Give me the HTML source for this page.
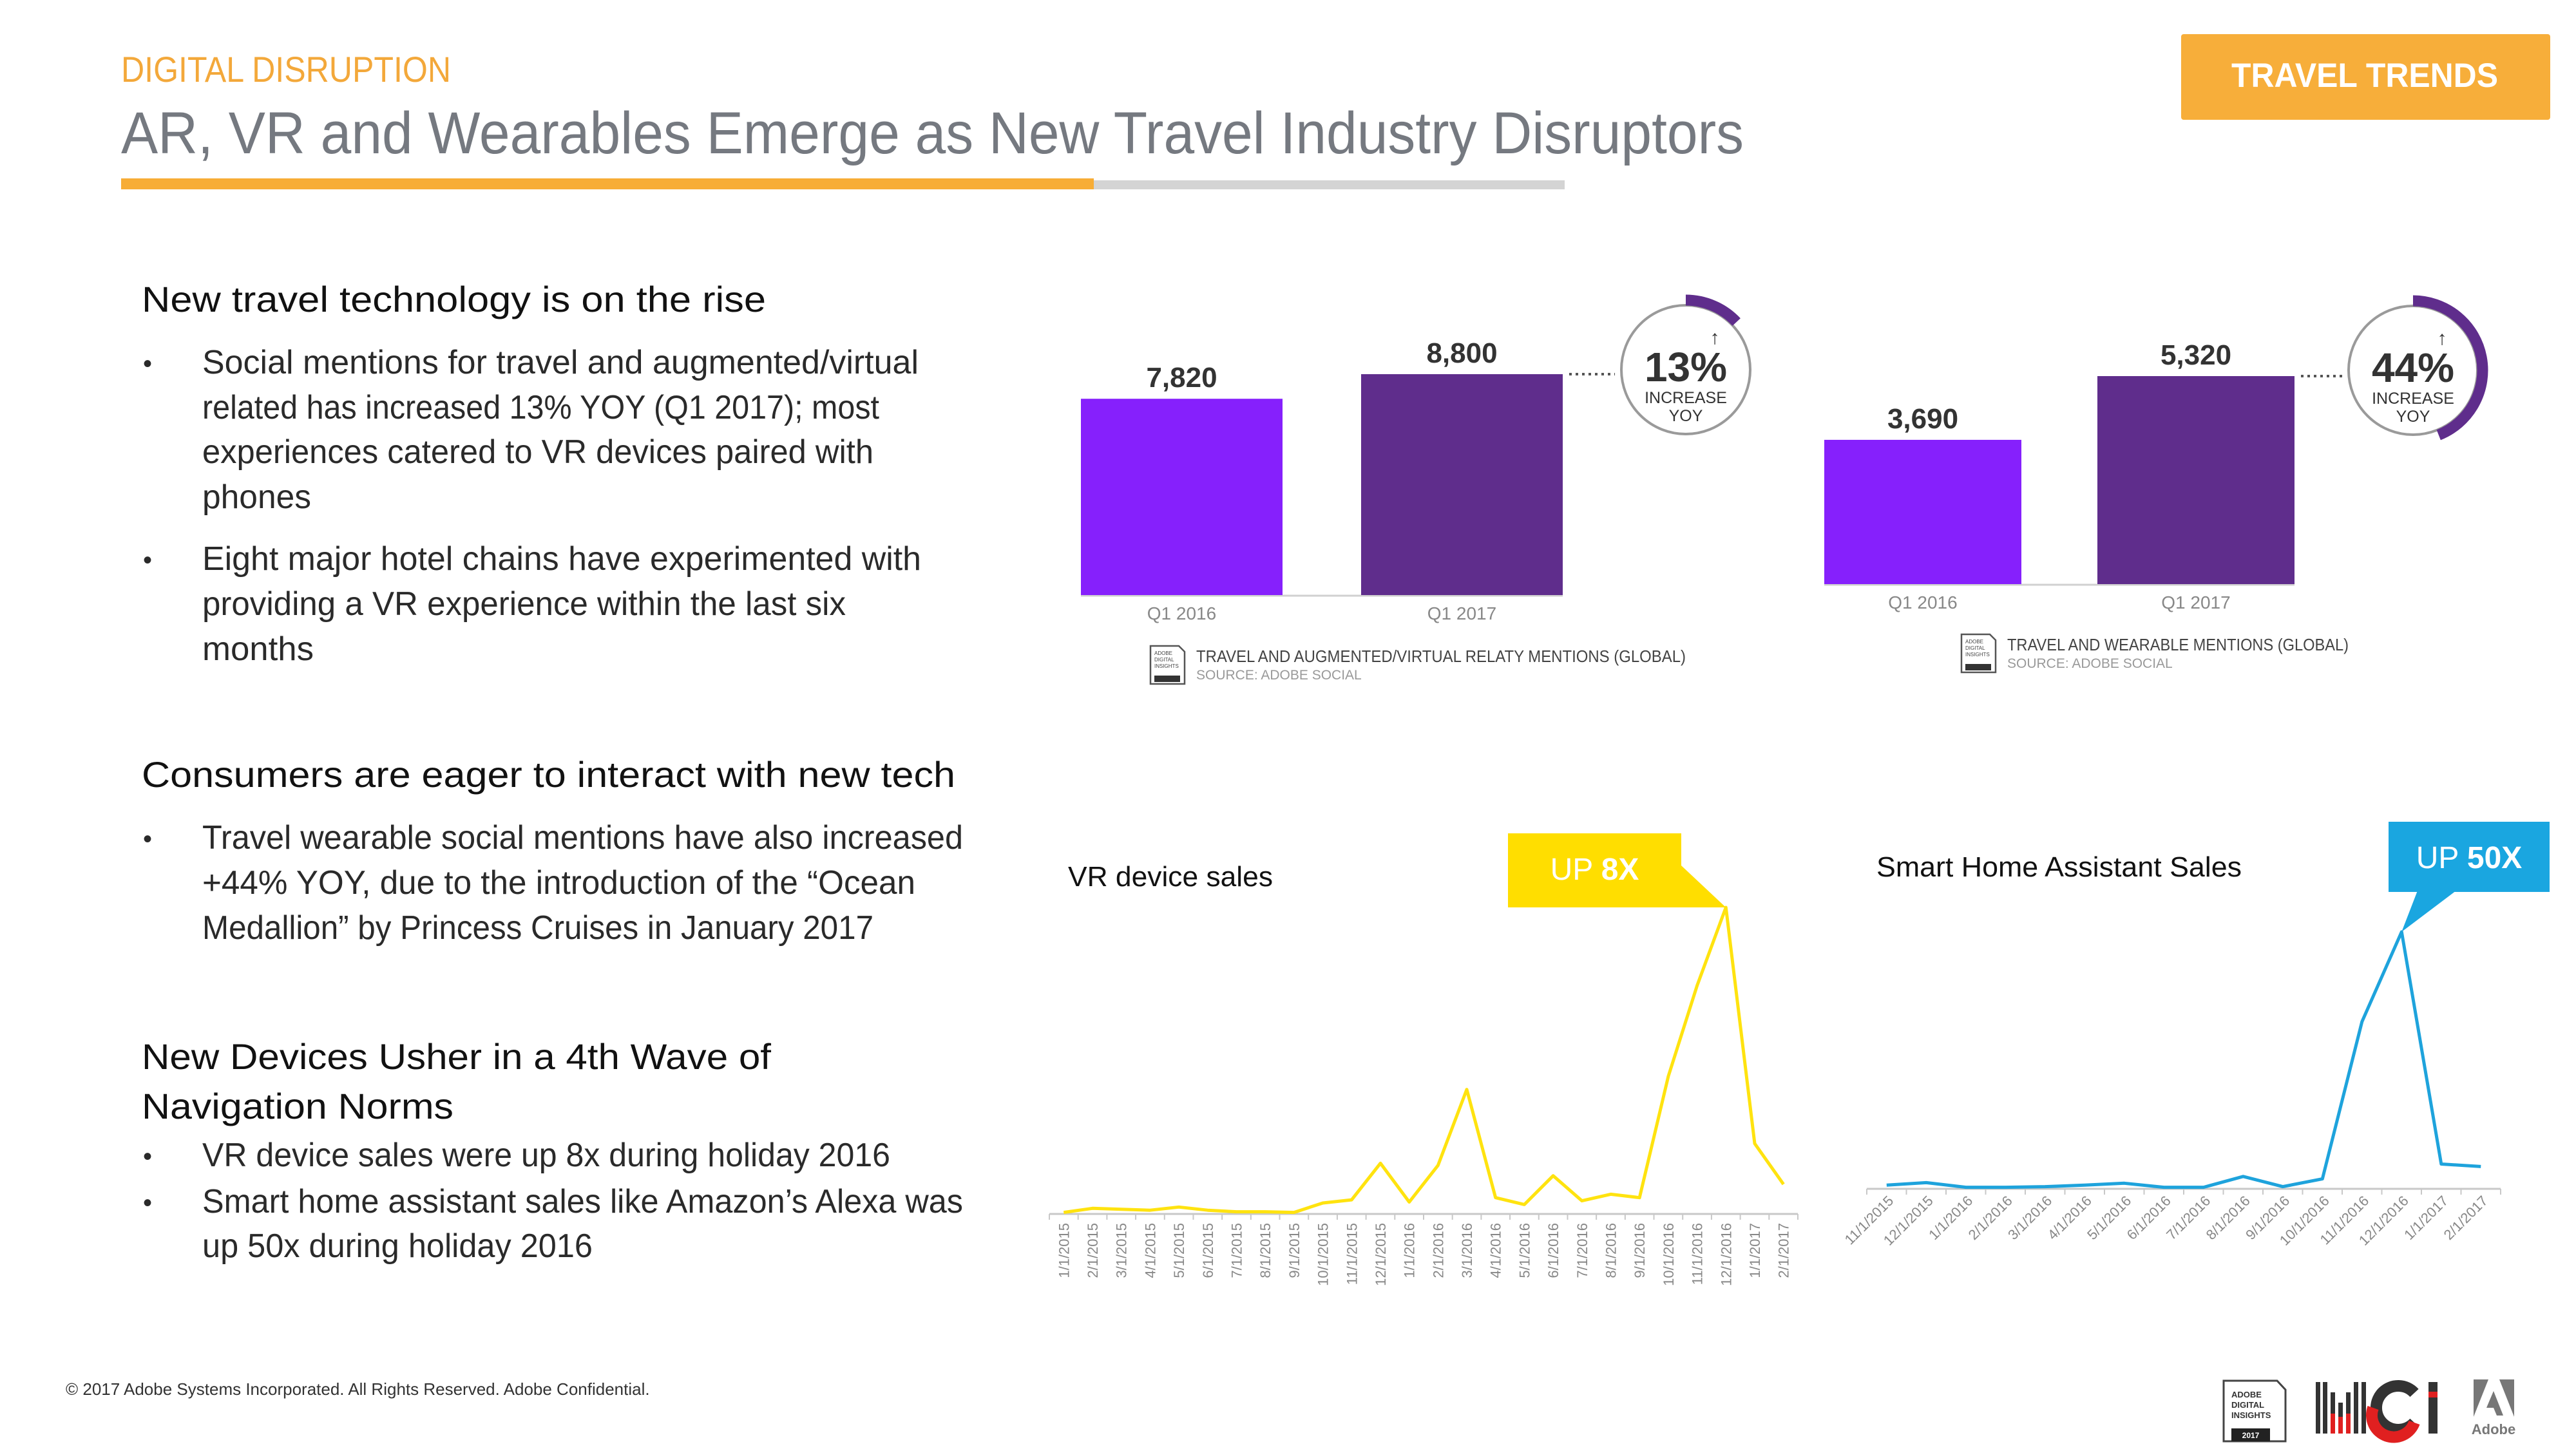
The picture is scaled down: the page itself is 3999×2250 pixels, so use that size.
<!DOCTYPE html>
<html><head><meta charset="utf-8"><style>
html,body{margin:0;padding:0;background:#fff;}
svg{display:block;font-family:"Liberation Sans",sans-serif;}
</style></head><body>
<svg id="root" width="3999" height="2250" viewBox="0 0 3999 2250" xmlns="http://www.w3.org/2000/svg">
<!-- header -->
<text x="188" y="127" font-size="56" fill="#f3a83a" textLength="512" lengthAdjust="spacingAndGlyphs">DIGITAL DISRUPTION</text>
<text x="188" y="238" font-size="92" fill="#757980" textLength="2519" lengthAdjust="spacingAndGlyphs">AR, VR and Wearables Emerge as New Travel Industry Disruptors</text>
<rect x="188" y="280" width="2241" height="14" fill="#d4d4d4"/>
<rect x="188" y="277" width="1510" height="17" fill="#f7ad36"/>
<rect x="3386" y="53" width="573" height="133" rx="4" fill="#f7ae3a"/>
<text x="3671" y="135" font-size="53" font-weight="bold" fill="#fff" text-anchor="middle" textLength="414" lengthAdjust="spacingAndGlyphs">TRAVEL TRENDS</text>

<!-- left text -->
<g fill="#111">
<text x="220" y="484" font-size="56" textLength="969" lengthAdjust="spacingAndGlyphs">New travel technology is on the rise</text>
<g font-size="52" fill="#2a2a2a">
<text x="222" y="578" font-size="40">•</text>
<text x="314" y="580" textLength="1112" lengthAdjust="spacingAndGlyphs">Social mentions for travel and augmented/virtual</text>
<text x="314" y="650" textLength="1051" lengthAdjust="spacingAndGlyphs">related has increased 13% YOY (Q1 2017); most</text>
<text x="314" y="719" textLength="1042" lengthAdjust="spacingAndGlyphs">experiences catered to VR devices paired with</text>
<text x="314" y="789" textLength="169" lengthAdjust="spacingAndGlyphs">phones</text>
<text x="222" y="883" font-size="40">•</text>
<text x="314" y="885" textLength="1116" lengthAdjust="spacingAndGlyphs">Eight major hotel chains have experimented with</text>
<text x="314" y="955" textLength="999" lengthAdjust="spacingAndGlyphs">providing a VR experience within the last six</text>
<text x="314" y="1025" textLength="173" lengthAdjust="spacingAndGlyphs">months</text>
</g>
<text x="220" y="1222" font-size="56" textLength="1263" lengthAdjust="spacingAndGlyphs">Consumers are eager to interact with new tech</text>
<g font-size="52" fill="#2a2a2a">
<text x="222" y="1316" font-size="40">•</text>
<text x="314" y="1318" textLength="1181" lengthAdjust="spacingAndGlyphs">Travel wearable social mentions have also increased</text>
<text x="314" y="1388" textLength="1107" lengthAdjust="spacingAndGlyphs">+44% YOY, due to the introduction of the “Ocean</text>
<text x="314" y="1458" textLength="1042" lengthAdjust="spacingAndGlyphs">Medallion” by Princess Cruises in January 2017</text>
</g>
<text x="220" y="1660" font-size="56" textLength="977" lengthAdjust="spacingAndGlyphs">New Devices Usher in a 4th Wave of</text>
<text x="220" y="1737" font-size="56" textLength="484" lengthAdjust="spacingAndGlyphs">Navigation Norms</text>
<g font-size="52" fill="#2a2a2a">
<text x="222" y="1809" font-size="40">•</text>
<text x="314" y="1811" textLength="1068" lengthAdjust="spacingAndGlyphs">VR device sales were up 8x during holiday 2016</text>
<text x="222" y="1881" font-size="40">•</text>
<text x="314" y="1883" textLength="1181" lengthAdjust="spacingAndGlyphs">Smart home assistant sales like Amazon’s Alexa was</text>
<text x="314" y="1952" textLength="606" lengthAdjust="spacingAndGlyphs">up 50x during holiday 2016</text>
</g>
</g>

<!-- footer -->
<text x="102" y="2166" font-size="26" fill="#333">© 2017 Adobe Systems Incorporated.  All Rights Reserved.  Adobe Confidential.</text>
<g>
<path d="M3452 2144 H3535 L3548 2158 V2238 H3452 Z" fill="#fff" stroke="#444" stroke-width="3"/>
<text x="3464" y="2170" font-size="13" font-weight="bold" fill="#333">ADOBE</text>
<text x="3464" y="2186" font-size="13" font-weight="bold" fill="#333">DIGITAL</text>
<text x="3464" y="2202" font-size="13" font-weight="bold" fill="#333">INSIGHTS</text>
<rect x="3464" y="2218" width="60" height="20" fill="#222"/>
<text x="3494" y="2233" font-size="12" font-weight="bold" fill="#fff" text-anchor="middle">2017</text>
</g>
<g>
<rect x="3595" y="2146" width="7" height="80" fill="#333"/><rect x="3606" y="2146" width="7" height="80" fill="#333"/>
<rect x="3618" y="2162" width="7" height="64" fill="#333"/><rect x="3618" y="2195" width="7" height="31" fill="#e02020"/>
<rect x="3630" y="2178" width="7" height="48" fill="#333"/><rect x="3630" y="2200" width="7" height="26" fill="#e02020"/>
<rect x="3642" y="2162" width="7" height="64" fill="#333"/><rect x="3642" y="2195" width="7" height="31" fill="#e02020"/>
<rect x="3654" y="2146" width="7" height="80" fill="#333"/><rect x="3666" y="2146" width="7" height="80" fill="#333"/>
<path d="M3748 2163 A34 34 0 1 0 3748 2209" fill="none" stroke="#333" stroke-width="18"/>
<path d="M3684 2186 A34 34 0 0 0 3748 2209" fill="none" stroke="#e02020" stroke-width="18"/>
<rect x="3770" y="2146" width="14" height="80" fill="#333"/><rect x="3770" y="2161" width="14" height="9" fill="#e02020"/>
</g>
<g>
<path d="M3840 2142 H3863 L3840 2200 Z" fill="#777"/>
<path d="M3880 2142 H3903 V2200 Z" fill="#777"/>
<path d="M3871 2160 L3886 2198 H3876 L3871 2186 H3860 Z" fill="#777"/>
<text x="3871" y="2227" font-size="22" font-weight="bold" fill="#777" text-anchor="middle">Adobe</text>
</g>

<g id="bars1"></g>
<g id="bars2"></g>
<g id="vr"></g>
<g id="sh"></g>
</svg>
<script>
const NS = "http://www.w3.org/2000/svg";
// ---- data ----
const barCategories = ["Q1 2016", "Q1 2017"];
const arvrValues = [7820, 8800];
const wearValues = [3690, 5320];
const arvrPct = 13;
const wearPct = 44;
const vrCategories = ["1/1/2015","2/1/2015","3/1/2015","4/1/2015","5/1/2015","6/1/2015","7/1/2015","8/1/2015","9/1/2015","10/1/2015","11/1/2015","12/1/2015","1/1/2016","2/1/2016","3/1/2016","4/1/2016","5/1/2016","6/1/2016","7/1/2016","8/1/2016","9/1/2016","10/1/2016","11/1/2016","12/1/2016","1/1/2017","2/1/2017"];
const vrValues = [5,18,15,12,22,12,7,7,5,35,45,162,38,155,398,52,30,122,42,63,52,440,730,980,225,95];
const shCategories = ["11/1/2015","12/1/2015","1/1/2016","2/1/2016","3/1/2016","4/1/2016","5/1/2016","6/1/2016","7/1/2016","8/1/2016","9/1/2016","10/1/2016","11/1/2016","12/1/2016","1/1/2017","2/1/2017"];
const shValues = [12,20,5,5,7,12,18,5,5,40,7,32,540,830,80,72];

function mk(parent, tag, attrs, text) {
  const e = document.createElementNS(NS, tag);
  for (const k in attrs) e.setAttribute(k, attrs[k]);
  if (text !== undefined) e.textContent = text;
  parent.appendChild(e);
  return e;
}
function fmt(v){ return v.toLocaleString("en-US"); }

function barChart(g, values, pct, cfg) {
  const yS = v => cfg.base - v * cfg.pxPerUnit;
  const colors = ["#8620fc", "#5f2d8c"];
  mk(g, "line", {x1: cfg.xs[0], x2: cfg.xs[1] + cfg.w, y1: cfg.base + 1, y2: cfg.base + 1, stroke: "#d0d0d0", "stroke-width": 3});
  values.forEach((v, i) => {
    const r = mk(g, "rect", {x: cfg.xs[i], y: yS(v), width: cfg.w, height: cfg.base - yS(v), fill: colors[i]});
    
    
    const t = mk(g, "text", {x: cfg.xs[i] + cfg.w / 2, y: yS(v) - 18, "font-size": 44, "font-weight": "bold", fill: "#333", "text-anchor": "middle"}, fmt(v));
    
    
    const c = mk(g, "text", {x: cfg.xs[i] + cfg.w / 2, y: cfg.base + 38, "font-size": 28, fill: "#888", "text-anchor": "middle"}, barCategories[i]);
    
    
  });
  const topY = yS(values[1]);
  mk(g, "line", {x1: cfg.xs[1] + cfg.w + 10, x2: cfg.cx - 110, y1: topY, y2: topY, stroke: "#555", "stroke-width": 4, "stroke-dasharray": "4 6"});
  const cx = cfg.cx, cy = cfg.cy;
  mk(g, "circle", {cx: cx, cy: cy, r: 100, fill: "#fff", stroke: "#9a9a9a", "stroke-width": 4});
  const a = pct / 100 * 2 * Math.PI, R = 108;
  const ex = cx + R * Math.sin(a), ey = cy - R * Math.cos(a);
  const arc = mk(g, "path", {d: `M${cx} ${cy - R} A${R} ${R} 0 ${a > Math.PI ? 1 : 0} 1 ${ex} ${ey}`, fill: "none", stroke: "#5f2d8c", "stroke-width": 17});
  
  
  mk(g, "text", {x: cx + 45, y: cy - 40, "font-size": 30, fill: "#333", "text-anchor": "middle"}, "↑");
  const p = mk(g, "text", {x: cx, y: cy + 18, "font-size": 64, "font-weight": "bold", fill: "#333", "text-anchor": "middle"}, pct + "%");
  
  
  mk(g, "text", {x: cx, y: cy + 52, "font-size": 25, fill: "#333", "text-anchor": "middle"}, "INCREASE");
  mk(g, "text", {x: cx, y: cy + 80, "font-size": 25, fill: "#333", "text-anchor": "middle"}, "YOY");
  // legend
  const L = cfg.legend;
  const ic = mk(g, "g", {});
  
  
  mk(ic, "path", {d: `M${L.x} ${L.y} h44 l9 9 v50 h-53 z`, fill: "#fff", stroke: "#555", "stroke-width": 2.5});
  mk(ic, "rect", {x: L.x + 6, y: L.y + 46, width: 40, height: 10, fill: "#333"});
  ["ADOBE","DIGITAL","INSIGHTS"].forEach((s, k) => mk(ic, "text", {x: L.x + 6, y: L.y + 14 + k * 10, "font-size": 8, fill: "#444"}, s));
  const lt = mk(g, "text", {x: L.x + 71, y: L.y + 25, "font-size": 26, fill: "#444", textLength: L.tw, lengthAdjust: "spacingAndGlyphs"}, L.title);
  
  
  mk(g, "text", {x: L.x + 71, y: L.y + 52, "font-size": 21, fill: "#999"}, "SOURCE: ADOBE SOCIAL");
}
barChart(document.getElementById("bars1"), arvrValues, arvrPct, {xs: [1678, 2113], w: 313, base: 924, pxPerUnit: 343 / 8800, cx: 2617, cy: 574,
  legend: {x: 1786, y: 1003, title: "TRAVEL AND AUGMENTED/VIRTUAL RELATY MENTIONS (GLOBAL)", tw: 760}});
barChart(document.getElementById("bars2"), wearValues, wearPct, {xs: [2832, 3256], w: 306, base: 907, pxPerUnit: 323 / 5320, cx: 3746, cy: 575,
  legend: {x: 3045, y: 985, title: "TRAVEL AND WEARABLE MENTIONS (GLOBAL)", tw: 530}});

function lineChart(g, cats, vals, cfg) {
  const band = (cfg.x1 - cfg.x0) / cats.length;
  const xS = i => cfg.x0 + band * (i + 0.5);
  const yS = v => cfg.base - v * cfg.pxPerUnit;
  const ax = mk(g, "line", {x1: cfg.x0, x2: cfg.x1, y1: cfg.base, y2: cfg.base, stroke: "#c8c8c8", "stroke-width": 3});
  
  
  for (let i = 0; i <= cats.length; i++) mk(g, "line", {x1: cfg.x0 + band * i, x2: cfg.x0 + band * i, y1: cfg.base, y2: cfg.base + 9, stroke: "#c8c8c8", "stroke-width": 2});
  cats.forEach((c, i) => {
    let t;
    if (cfg.rot === -90) {
      t = mk(g, "text", {x: 0, y: 0, "font-size": 22, fill: "#888", "text-anchor": "end", transform: `translate(${xS(i) + 8},${cfg.base + 14}) rotate(-90)`}, c);
    } else {
      t = mk(g, "text", {x: 0, y: 0, "font-size": 22, fill: "#888", "text-anchor": "end", transform: `translate(${xS(i) + 12},${cfg.base + 20}) rotate(-45)`}, c);
    }
    
    
  });
  const pts = vals.map((v, i) => xS(i).toFixed(1) + "," + yS(v).toFixed(1)).join(" ");
  const pl = mk(g, "polyline", {points: pts, fill: "none", stroke: cfg.color, "stroke-width": 5, "stroke-linejoin": "round"});
  
  
  const tt = mk(g, "text", {x: cfg.tx, y: cfg.ty, "font-size": 44, fill: "#111", textLength: cfg.tw, lengthAdjust: "spacingAndGlyphs"}, cfg.title);
  
  
  // callout
  let mi = 0; vals.forEach((v, i) => { if (v > vals[mi]) mi = i; });
  const px = xS(mi), py = yS(vals[mi]);
  const B = cfg.box;
  const call = mk(g, "g", {});
  
  
  if (B.side === "right") mk(call, "path", {d: `M${B.x + B.w} ${B.y + 50} L${px} ${py} L${B.x + B.w - 20} ${B.y + B.h}Z`, fill: cfg.boxColor});
  else mk(call, "path", {d: `M${B.x + 45} ${B.y + B.h - 2} L${px} ${py} L${B.x + 105} ${B.y + B.h - 2}Z`, fill: cfg.boxColor});
  mk(call, "rect", {x: B.x, y: B.y, width: B.w, height: B.h, fill: cfg.boxColor});
  const ct = mk(call, "text", {x: B.x + B.w / 2, y: B.y + 72, "font-size": 48, fill: "#fff", "text-anchor": "middle"});
  mk(ct, "tspan", {}, "UP ");
  mk(ct, "tspan", {"font-weight": "bold"}, cfg.label);
}
lineChart(document.getElementById("vr"), vrCategories, vrValues, {x0: 1629, x1: 2791, base: 1885, pxPerUnit: 476 / 980, color: "#ffe30f", rot: -90,
  title: "VR device sales", tx: 1658, ty: 1376, tw: 318, boxColor: "#ffde00", label: "8X", box: {x: 2341, y: 1294, w: 269, h: 115, side: "right"}});
lineChart(document.getElementById("sh"), shCategories, shValues, {x0: 2898, x1: 3882, base: 1846, pxPerUnit: 399 / 830, color: "#1ea3dc", rot: -45,
  title: "Smart Home Assistant Sales", tx: 2913, ty: 1361, tw: 567, boxColor: "#1aa6e0", label: "50X", box: {x: 3708, y: 1276, w: 250, h: 109, side: "bottom"}});
</script>
</body></html>
